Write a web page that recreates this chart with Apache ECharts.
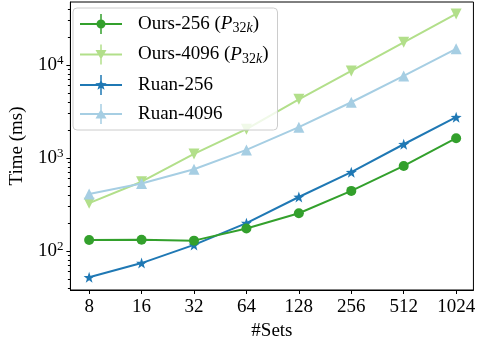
<!DOCTYPE html>
<html>
<head>
<meta charset="utf-8">
<script src="https://cdn.jsdelivr.net/npm/echarts@6/dist/echarts.min.js"></script>
<style>
  html, body { margin: 0; padding: 0; background: #fff; }
  #main { width: 478px; height: 348px; }
</style>
</head>
<body>
<div id="main"></div>
<script>
  // data
  var sets = [8, 16, 32, 64, 128, 256, 512, 1024];
  var ours256 = [131, 132, 129, 174, 254, 442, 820, 1630];
  var ours4096 = [326, 555, 1104, 2040, 4270, 8620, 17500, 35300];
  var ruan256 = [52, 74, 116, 199, 380, 702, 1403, 2740];
  var ruan4096 = [410, 530, 755, 1219, 2140, 3970, 7620, 14900];
  var yMajor = [100, 1000, 10000];
  var yMinor = [40, 50, 60, 70, 80, 90, 200, 300, 400, 500, 600, 700, 800, 900,
                2000, 3000, 4000, 5000, 6000, 7000, 8000, 9000, 20000, 30000, 40000];

  var FONT = '"Liberation Serif", "DejaVu Serif", serif';
  var myChart = echarts.init(document.getElementById('main'));

  function pairs(vals) {
    return sets.map(function (s, i) { return [s, vals[i]]; });
  }

  var starSymbol = 'path://M0,-10 L2.35,-3.24 L9.51,-3.09 L3.80,1.24 L5.88,8.09 L0,4 L-5.88,8.09 L-3.80,1.24 L-9.51,-3.09 L-2.35,-3.24 Z';

  // legend icons: line + errorbar + marker, in a 42x20 box
  var bars = 'M0,9 L42,9 L42,11 L0,11 Z M20.25,0 L21.75,0 L21.75,20 L20.25,20 Z ';
  var iconCircle = 'path://' + bars + 'M25.5,10 A4.5,4.5 0 1,1 16.5,10 A4.5,4.5 0 1,1 25.5,10 Z';
  var iconDown = 'path://' + bars + 'M15.5,5.5 L26.5,5.5 L21,15 Z';
  var iconUp = 'path://' + bars + 'M21,5 L26.5,14.5 L15.5,14.5 Z';
  var iconStar = 'path://' + bars + 'M21,4 L22.47,7.98 L26.71,8.15 L23.38,10.77 L24.53,14.85 L21,12.5 L17.47,14.85 L18.62,10.77 L15.29,8.15 L19.53,7.98 Z';

  option = {
    animation: false,
    textStyle: { fontFamily: FONT },
    grid: { left: 67, right: 2, top: 2, bottom: 58, show: true, borderColor: '#000', borderWidth: 1 },
    legend: {
      orient: 'vertical',
      left: 73,
      top: 8,
      padding: [6, 9, 6, 7],
      itemWidth: 42,
      itemHeight: 20,
      itemGap: 9,
      backgroundColor: 'rgba(255,255,255,0.8)',
      borderColor: '#cccccc',
      borderWidth: 1,
      borderRadius: 4,
      itemStyle: { borderWidth: 0 },
      data: [
        { name: 'Ours-256', icon: iconCircle },
        { name: 'Ours-4096', icon: iconDown },
        { name: 'Ruan-256', icon: iconStar },
        { name: 'Ruan-4096', icon: iconUp }
      ],
      formatter: function (name) {
        if (name.indexOf('Ours') === 0) {
          return name + ' ({i|P}{sub|32}{subi|k})';
        }
        return name;
      },
      textStyle: {
        fontFamily: FONT,
        fontSize: 19,
        color: '#000',
        padding: [0, 0, 0, 11],
        rich: {
          i: { fontFamily: FONT, fontSize: 19, fontStyle: 'italic', color: '#000' },
          sub: { fontFamily: FONT, fontSize: 14, color: '#000', padding: [9, 0, 0, 0] },
          subi: { fontFamily: FONT, fontSize: 14, fontStyle: 'italic', color: '#000', padding: [9, 0, 0, 0] }
        }
      }
    },
    xAxis: {
      type: 'log',
      logBase: 2,
      min: 6.245,
      max: 1287,
      name: '#Sets',
      nameLocation: 'middle',
      nameGap: 30,
      nameTextStyle: { fontFamily: FONT, fontSize: 19, color: '#000' },
      splitLine: { show: false },
      axisLine: { lineStyle: { color: '#000', width: 1 } },
      axisTick: { length: 4, lineStyle: { color: '#000' }, customValues: sets },
      axisLabel: {
        customValues: sets,
        margin: 8,
        fontFamily: FONT,
        fontSize: 19,
        color: '#000',
        formatter: function (v) { return String(Math.round(v)); }
      }
    },
    yAxis: [
      {
        type: 'log',
        min: 38,
        max: 47500,
        position: 'left',
        name: 'Time (ms)',
        nameLocation: 'middle',
        nameGap: 42,
        nameTextStyle: { fontFamily: FONT, fontSize: 19, color: '#000' },
        splitLine: { show: false },
        axisLine: { show: true, lineStyle: { color: '#000', width: 1 } },
        axisTick: { show: true, length: 4, lineStyle: { color: '#000' }, customValues: yMajor },
        axisLabel: {
          customValues: yMajor,
          margin: 7,
          color: '#000',
          formatter: function (v) {
            return '{b|10}{s|' + Math.round(Math.log10(v)) + '}';
          },
          rich: {
            b: { fontFamily: FONT, fontSize: 19, color: '#000' },
            s: { fontFamily: FONT, fontSize: 13, color: '#000', padding: [0, 0, 8, 0] }
          }
        }
      },
      {
        // minor ticks only
        type: 'log',
        min: 38,
        max: 47500,
        position: 'left',
        splitLine: { show: false },
        axisLine: { show: false },
        axisTick: { show: true, length: 2.5, lineStyle: { color: '#000' }, customValues: yMinor },
        axisLabel: { show: false }
      }
    ],
    series: [
      {
        name: 'Ours-256',
        type: 'line',
        data: pairs(ours256),
        symbol: 'circle',
        symbolSize: 10,
        color: '#33a02c',
        lineStyle: { width: 2 },
        z: 5
      },
      {
        name: 'Ours-4096',
        type: 'line',
        data: pairs(ours4096),
        symbol: 'triangle',
        symbolRotate: 180,
        symbolSize: 11,
        color: '#b2df8a',
        lineStyle: { width: 2 },
        z: 2
      },
      {
        name: 'Ruan-256',
        type: 'line',
        data: pairs(ruan256),
        symbol: starSymbol,
        symbolSize: 11,
        color: '#1f78b4',
        lineStyle: { width: 2 },
        z: 4
      },
      {
        name: 'Ruan-4096',
        type: 'line',
        data: pairs(ruan4096),
        symbol: 'triangle',
        symbolSize: 11,
        color: '#a6cee3',
        lineStyle: { width: 2 },
        z: 3
      }
    ]
  };
  myChart.setOption(option);
</script>
</body>
</html>
